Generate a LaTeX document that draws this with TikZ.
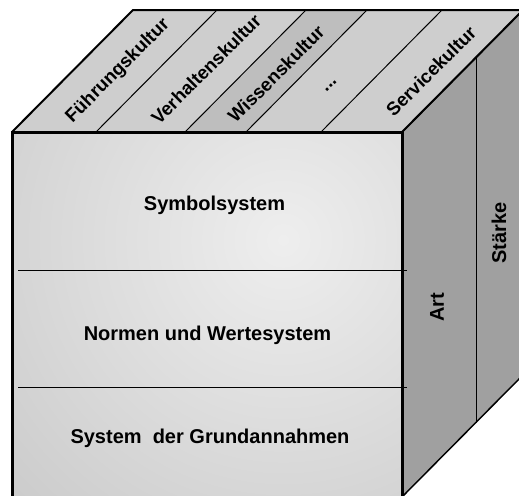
\documentclass[tikz,border=0pt]{standalone}
\usepackage{fontspec}
\setmainfont{Liberation Sans}
\begin{document}
\tikzset{every picture/.style={line width=0.75pt}}
\tikzset{
  layerlabel/.style={inner sep=0.75pt, font=\fontsize{15}{18}\selectfont\bfseries},
  kulturlabel/.style={inner sep=0.75pt, rotate=45, font=\fontsize{14}{17}\selectfont\bfseries},
  sidelabel/.style={inner sep=0.75pt, rotate=90, font=\fontsize{15}{18}\selectfont\bfseries}
}

\begin{tikzpicture}[x=0.75pt,y=0.75pt,yscale=-1,xscale=1]
        \useasboundingbox (0,0) rectangle (519,496);
        \clip (0,0) rectangle (519,496);

        %Shape: Right face
        \draw [fill={rgb, 255:red, 160; green, 160; blue, 160 }  ,line width=1.1]   (402,132) -- (523,10) -- (523,375) -- (402,497) -- cycle ;
        %Straight Lines: right face divider
        \draw    (476,57.5) -- (476,422.5) ;

        %Shape: Top face
        \fill [fill={rgb, 255:red, 206; green, 206; blue, 206 }  ]   (12,132) -- (133,10) -- (523,10) -- (402,132) -- cycle ;
        %Shape: Wissenskultur band
        \fill [fill={rgb, 255:red, 190; green, 190; blue, 190 }  ]   (185,132) -- (306,10) -- (367,10) -- (246,132) -- cycle ;
        %Straight Lines: top face dividers
        \foreach \x in {96,185,246,321} {
          \draw    (\x,132) -- ++(121,-122) ;
        }
        \draw [line width=1.5]   (12,132) -- (133,10) -- (523,10) -- (402,132) ;

        %Shape: Front face
        \begin{scope}
          \clip (12,132) rectangle (402,499);
          \shade [inner color={rgb, 255:red, 238; green, 238; blue, 238 }, outer color={rgb, 255:red, 190; green, 190; blue, 190 }]   (283,240) circle (520) ;
        \end{scope}
        %Straight Lines: layer dividers
        \draw    (18,270) -- (407,270) ;
        \draw    (18,387) -- (407,387) ;
        \draw [line width=2.25]   (12,132) rectangle (402,499) ;

        % Text Node
        \draw (214.5,205) node (symbol) [layerlabel]   {Symbolsystem};
        % Text Node
        \draw (207.5,335) node (normen) [layerlabel]   {Normen und Wertesystem};
        % Text Node
        \draw (210,438) node (grund) [layerlabel]   {System\ \ der Grundannahmen};
        % Text Node
        \draw (118,71) node (fuehrung) [kulturlabel]   {Führungskultur};
        % Text Node
        \draw (206,69) node (verhalten) [kulturlabel]   {Verhaltenskultur};
        % Text Node
        \draw (276,74) node (wissen) [kulturlabel]   {Wissenskultur};
        % Text Node
        \draw (331,86) node (weitere) [kulturlabel]   {...};
        % Text Node
        \draw (431,71) node (service) [kulturlabel]   {Servicekultur};
        % Text Node
        \draw (437,307) node (art) [sidelabel]   {Art};
        % Text Node
        \draw (499,233) node (staerke) [sidelabel]   {Stärke};

\end{tikzpicture}
\end{document}
